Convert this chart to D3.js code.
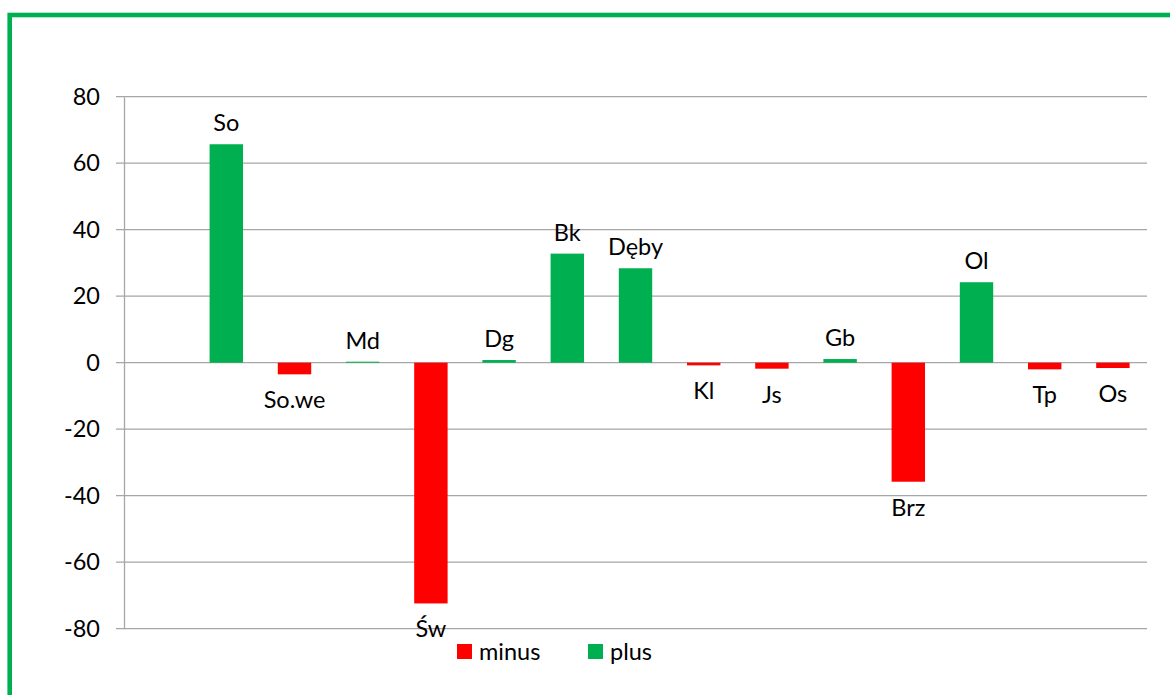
<!DOCTYPE html>
<html>
<head>
<meta charset="utf-8">
<script src="https://cdn.jsdelivr.net/npm/d3@7"></script>
<style>
  html, body { margin: 0; padding: 0; background: #fff; overflow: hidden; }
  text { font-family: Lato, "Open Sans", sans-serif; fill: #000; }
</style>
</head>
<body>
<div id="app"></div>
<script>
// first slot is empty in the original sheet
const categories = ['', 'So', 'So.we', 'Md', 'Św', 'Dg', 'Bk', 'Dęby', 'Kl', 'Js', 'Gb', 'Brz', 'Ol', 'Tp', 'Os'];
const minusValues = [null, null, -3.5, null, -72.4, null, null, null, -0.8, -1.8, null, -35.8, null, -2.0, -1.6];
const plusValues = [null, 65.7, null, 0.3, null, 0.8, 32.8, 28.4, null, null, 1.1, null, 24.2, null, null];
const yTicks = [-80, -60, -40, -20, 0, 20, 40, 60, 80];
const seriesNames = ['minus', 'plus'];

const colors = { minus: '#ff0000', plus: '#00b050' };

const width = 1170;
const height = 695;
const plot = { left: 124, right: 1147, top: 96.7, bottom: 628.7 };
const fontSize = '23.5px';

const svg = d3.select('#app').append('svg')
  .attr('width', width)
  .attr('height', height);

// green frame, runs off the right and bottom edge
svg.append('rect')
  .attr('x', 9.7)
  .attr('y', 15)
  .attr('width', width + 20)
  .attr('height', height + 20)
  .attr('fill', 'none')
  .attr('stroke', '#00b050')
  .attr('stroke-width', 4.6);

const xScale = d3.scaleBand()
  .domain(categories.map((c, i) => i))
  .range([plot.left, plot.right])
  .padding(0);

const yScale = d3.scaleLinear()
  .domain([-80, 80])
  .range([plot.bottom, plot.top]);

const barWidth = xScale.bandwidth() * 0.49;

// gridlines
svg.append('g')
  .selectAll('line')
  .data(yTicks)
  .enter()
  .append('line')
  .attr('x1', plot.left - 8)
  .attr('x2', plot.right)
  .attr('y1', d => yScale(d))
  .attr('y2', d => yScale(d))
  .attr('stroke', '#a6a6a6')
  .attr('stroke-width', 1.3);

// plain hyphen for negatives, like the spreadsheet
const yAxis = d3.axisLeft(yScale)
  .tickValues(yTicks)
  .tickFormat(d => String(d))
  .tickSize(0)
  .tickPadding(24);

const yAxisGroup = svg.append('g')
  .attr('transform', `translate(${plot.left}, 0)`)
  .call(yAxis);

yAxisGroup.select('.domain')
  .attr('stroke', '#a6a6a6')
  .attr('stroke-width', 1.3);

yAxisGroup.selectAll('text')
  .style('font-size', fontSize)
  .attr('fill', '#000');

// bars, one series per category
const rows = categories.map((c, i) => {
  const v = minusValues[i] !== null ? minusValues[i] : plusValues[i];
  const series = minusValues[i] !== null ? 'minus' : 'plus';
  return { name: c, index: i, value: v, series: series };
}).filter(d => d.value !== null);

svg.append('g')
  .selectAll('rect')
  .data(rows)
  .enter()
  .append('rect')
  .attr('x', d => xScale(d.index) + (xScale.bandwidth() - barWidth) / 2)
  .attr('y', d => yScale(Math.max(0, d.value)))
  .attr('width', barWidth)
  .attr('height', d => Math.abs(yScale(d.value) - yScale(0)))
  .attr('fill', d => colors[d.series]);

// category names as data labels
svg.append('g')
  .selectAll('text')
  .data(rows)
  .enter()
  .append('text')
  .attr('x', d => xScale(d.index) + xScale.bandwidth() / 2)
  .attr('y', d => d.value >= 0 ? yScale(d.value) - 13 : yScale(d.value) + 34)
  .attr('text-anchor', 'middle')
  .style('font-size', fontSize)
  .text(d => d.name);

// legend
const legend = svg.append('g')
  .attr('transform', 'translate(457, 644)');

const legendItems = legend.selectAll('g')
  .data(seriesNames)
  .enter()
  .append('g')
  .attr('transform', (d, i) => `translate(${i * 131}, 0)`);

legendItems.append('rect')
  .attr('width', 15)
  .attr('height', 15)
  .attr('fill', d => colors[d]);

legendItems.append('text')
  .attr('x', 22)
  .attr('y', 15.5)
  .style('font-size', fontSize)
  .text(d => d);
</script>
</body>
</html>
